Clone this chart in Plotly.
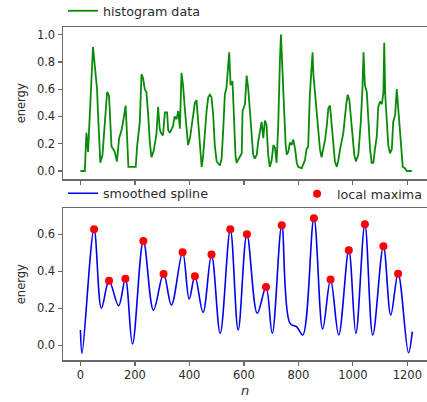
import plotly.graph_objects as go

# ---- top panel: histogram data ----
hist_n = [0, 16, 22, 28, 46, 56, 61, 65, 73, 81,
          89, 98, 105, 110, 114, 126, 134, 142, 151, 159,
          166, 171, 176, 187, 203, 208, 218, 224, 230, 236,
          242, 248, 255, 261, 269, 279, 285, 291, 295, 303,
          310, 318, 322, 328, 340, 346, 353, 359, 365, 371,
          377, 383, 389, 395, 402, 408, 414, 420, 426, 432,
          438, 445, 450, 457, 463, 469, 475, 481, 487, 493,
          500, 512, 518, 524, 530, 536, 542, 546, 551, 558,
          563, 569, 573, 585, 592, 595, 604, 610, 616, 622,
          628, 634, 640, 647, 653, 661, 665, 671, 677, 683,
          689, 695, 702, 708, 714, 720, 726, 732, 736, 741,
          744, 748, 753, 757, 763, 769, 775, 781, 788, 794,
          799, 812, 824, 830, 836, 842, 849, 852, 855, 860,
          867, 873, 879, 885, 891, 898, 904, 910, 916, 922,
          928, 934, 941, 946, 953, 965, 975, 981, 987, 993,
          999, 1005, 1011, 1020, 1029, 1035, 1039, 1044, 1051, 1057,
          1063, 1069, 1075, 1081, 1088, 1093, 1100, 1106, 1112, 1115,
          1119, 1124, 1130, 1136, 1143, 1148, 1155, 1161, 1166, 1171,
          1177, 1183, 1191, 1198, 1216]
hist_v = [0, 0, 0.28, 0.14, 0.91, 0.66, 0.6, 0.4, 0.06, 0.12,
          0.36, 0.58, 0.55, 0.33, 0.18, 0.14, 0.07, 0.24, 0.3, 0.39,
          0.48, 0.26, 0.03, 0.03, 0.03, 0.18, 0.36, 0.71, 0.68, 0.6,
          0.58, 0.43, 0.2, 0.1, 0.15, 0.27, 0.47, 0.31, 0.28, 0.26,
          0.43, 0.43, 0.3, 0.28, 0.33, 0.4, 0.38, 0.44, 0.31, 0.72,
          0.62, 0.46, 0.31, 0.19, 0.24, 0.34, 0.44, 0.5, 0.52, 0.37,
          0.18, 0.03, 0.1, 0.3, 0.44, 0.54, 0.56, 0.54, 0.42, 0.19,
          0.07, 0.04, 0.09, 0.3, 0.56, 0.61, 0.8, 0.87, 0.63, 0.66,
          0.42, 0.12, 0.06, 0.1, 0.13, 0.44, 0.49, 0.7, 0.6, 0.44,
          0.28, 0.12, 0.09, 0.12, 0.22, 0.34, 0.36, 0.24, 0.37, 0.34,
          0.12, 0.03, 0.08, 0.19, 0.17, 0.06, 0.34, 0.8, 1.0, 0.76,
          0.6, 0.44, 0.2, 0.12, 0.14, 0.21, 0.19, 0.23, 0.16, 0.06,
          0.03, 0.02, 0.08, 0.16, 0.18, 0.56, 0.8, 0.87, 0.71, 0.6,
          0.44, 0.28, 0.16, 0.1, 0.16, 0.23, 0.33, 0.46, 0.48, 0.34,
          0.16, 0.07, 0.03, 0.07, 0.16, 0.28, 0.48, 0.56, 0.52, 0.4,
          0.26, 0.12, 0.07, 0.12, 0.36, 0.6, 0.87, 0.63, 0.58, 0.34,
          0.16, 0.06, 0.06, 0.16, 0.26, 0.47, 0.51, 0.49, 0.57, 0.94,
          0.55, 0.38, 0.19, 0.13, 0.16, 0.36, 0.41, 0.6, 0.48, 0.31,
          0.16, 0.03, 0.02, 0.0, 0.0]

# ---- bottom panel: smoothed spline knots ----
max_n = [50, 105, 165, 231, 305, 375, 420, 481, 550, 611, 681, 739, 857, 918, 985, 1044, 1112, 1166]
max_v = [0.627, 0.349, 0.36, 0.564, 0.385, 0.503, 0.373, 0.49, 0.627, 0.6, 0.315, 0.649,
         0.686, 0.355, 0.514, 0.654, 0.535, 0.387]
trough_n = [0, 6, 77, 140, 191, 268, 334, 399, 450, 513, 579, 649, 704, 769, 794, 816,
            889, 948, 1011, 1073, 1139, 1204, 1218]
trough_v = [0.083, -0.043, 0.2, 0.214, 0.007, 0.19, 0.218, 0.25, 0.178, 0.065, 0.083, 0.173,
            0.065, 0.119, 0.10, 0.056, 0.088, 0.056, 0.065, 0.056, 0.164, -0.04, 0.074]

x_ticks = [0, 200, 400, 600, 800, 1000, 1200]
top_yticks = [0.0, 0.2, 0.4, 0.6, 0.8, 1.0]
bot_yticks = [0.0, 0.2, 0.4, 0.6]

knots = sorted(zip(max_n + trough_n, max_v + trough_v))
spline_n = [k[0] for k in knots]
spline_v = [k[1] for k in knots]

W, H = 427, 402
FONT = "DejaVu Sans"
AX = "#6a6a6a"
TXT = "#2a2a2a"
LEGSIZE = 12.7

fig = go.Figure()
fig.add_trace(go.Scatter(x=hist_n, y=hist_v, mode="lines", name="histogram data",
                         line=dict(color="#0a8a0a", width=1.8), xaxis="x", yaxis="y",
                         legend="legend", showlegend=True))
fig.add_trace(go.Scatter(x=spline_n, y=spline_v, mode="lines", name="smoothed spline",
                         line=dict(color="#0000ee", width=1.6, shape="spline", smoothing=1.0),
                         xaxis="x2", yaxis="y2", legend="legend2", showlegend=True))
fig.add_trace(go.Scatter(x=max_n, y=max_v, mode="markers", name="local maxima",
                         marker=dict(color="#ff0000", size=8, line=dict(width=0)),
                         xaxis="x2", yaxis="y2", legend="legend3", showlegend=True))

axis_common = dict(showline=True, linecolor=AX, linewidth=1.5, ticks="outside", ticklen=4,
                   tickwidth=1.2, tickcolor=AX, showgrid=False, zeroline=False,
                   automargin=False,
                   tickfont=dict(family=FONT, size=11.5, color=TXT))

xr = [-64, 1272]
leg_common = dict(xanchor="left", yanchor="middle", bgcolor="rgba(0,0,0,0)",
                  font=dict(family=FONT, size=LEGSIZE, color=TXT), itemwidth=30,
                  borderwidth=0)
fig.update_layout(
    width=W, height=H,
    showlegend=True,
    hovermode=False,
    margin=dict(l=63, r=0, t=0, b=0, autoexpand=False),
    paper_bgcolor="white", plot_bgcolor="white",
    font=dict(family=FONT, size=11, color=TXT),
    xaxis=dict(domain=[0, 1], range=xr, tickvals=x_ticks, showticklabels=False,
               mirror=True, anchor="y", **axis_common),
    yaxis=dict(domain=[1 - 179.3 / H, 1 - 27.3 / H], range=[-0.061, 1.054],
               tickvals=top_yticks, tickformat=".1f", anchor="x",
               title=dict(text="energy", standoff=9, font=dict(family=FONT, size=11.5, color=TXT)),
               **axis_common),
    xaxis2=dict(domain=[0, 1], range=xr, tickvals=x_ticks, mirror=True, anchor="y2",
                title=dict(text="<i>n</i>", standoff=4, font=dict(family=FONT, size=13, color=TXT)),
                **axis_common),
    yaxis2=dict(domain=[1 - 360 / H, 1 - 208.3 / H], range=[-0.079, 0.74],
                tickvals=bot_yticks, tickformat=".1f", anchor="x2",
                title=dict(text="energy", standoff=9, font=dict(family=FONT, size=11.5, color=TXT)),
                **axis_common),
    legend=dict(x=0.0, y=1 - 11 / H, **leg_common),
    legend2=dict(x=0.0, y=1 - 193.5 / H, **leg_common),
    legend3=dict(x=0.643, y=1 - 194 / H, **leg_common),
)

fig.write_html("out.html",
               config={"displayModeBar": False, "staticPlot": True},
               post_script="document.body.style.margin='0px';document.body.style.overflow='hidden';")
